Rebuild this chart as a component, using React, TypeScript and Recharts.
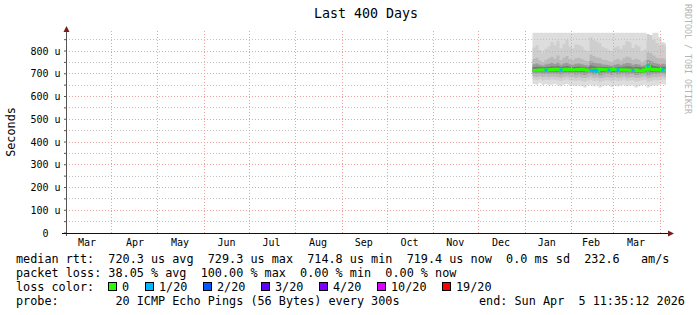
import React from "react";
import { ComposedChart, Area, Line, XAxis, YAxis, ReferenceLine } from "recharts";

const FONT = '"DejaVu Sans Mono", monospace';

// time axis: day 0 = start of the 400 day window
const firstDay = 311;
const stepDays = 2;
const monthNames = ["Mar", "Apr", "May", "Jun", "Jul", "Aug", "Sep", "Oct", "Nov", "Dec", "Jan", "Feb", "Mar"];
const monthLabelDays = [14, 46, 76, 107, 137, 168, 198.5, 229, 259.5, 290, 320.5, 350, 380];
const monthStartDays = [30.5, 61, 92, 122, 153, 184, 214, 245, 275, 306, 337, 365, 396];
const yTicks = [0, 50, 100, 150, 200, 250, 300, 350, 400, 450, 500, 550, 600, 650, 700, 750, 800, 850];
const yMajor = [100, 200, 300, 400, 500, 600, 700, 800];
const yMinor = [50, 150, 250, 350, 450, 550, 650, 750, 850];

// smoke bands (us), outermost first
const aHi = [
  880, 880, 880, 880, 880, 880, 880, 880, 880, 880, 880, 880, 880, 880, 880,
  880, 880, 880, 880, 880, 880, 880, 880, 880, 880, 880, 880, 880, 880, 880,
  880, 880, 880, 880, 880, 880, 880, 880, 850, 845, 880, 880, 860, 840, 835,
];
const aLo = [
  655, 652, 658, 650, 655, 648, 652, 655, 650, 645, 652, 655, 648, 650, 645,
  650, 645, 640, 648, 652, 645, 650, 640, 645, 650, 648, 642, 650, 645, 648,
  652, 645, 648, 650, 640, 645, 650, 652, 640, 645, 650, 648, 652, 655, 650,
];
const bHi = [
  815, 825, 805, 795, 810, 820, 840, 825, 845, 812, 830, 848, 820, 812, 830,
  826, 820, 806, 800, 860, 848, 842, 835, 818, 812, 805, 800, 815, 822, 810,
  826, 844, 838, 813, 828, 820, 800, 808, 875, 870, 850, 835, 826, 830, 820,
];
const bLo = [
  675, 672, 676, 670, 674, 671, 675, 673, 670, 668, 672, 675, 670, 672, 668,
  672, 668, 665, 670, 674, 668, 670, 664, 668, 672, 670, 666, 672, 668, 670,
  674, 668, 670, 672, 665, 668, 672, 674, 664, 668, 672, 670, 674, 676, 672,
];
const cHi = [
  765, 770, 758, 752, 762, 768, 775, 766, 780, 760, 770, 778, 765, 760, 768,
  770, 765, 758, 755, 785, 778, 772, 770, 762, 760, 756, 752, 760, 766, 758,
  768, 776, 772, 760, 766, 762, 752, 758, 795, 790, 780, 770, 766, 768, 762,
];
const cLo = [
  688, 686, 689, 685, 688, 685, 688, 687, 685, 683, 686, 688, 685, 686, 683,
  686, 683, 681, 685, 688, 683, 685, 680, 683, 686, 685, 682, 686, 683, 685,
  688, 683, 685, 686, 681, 683, 686, 688, 680, 683, 686, 685, 688, 689, 686,
];
const dHi = [
  742, 745, 740, 736, 741, 744, 748, 743, 750, 740, 745, 749, 742, 740, 744,
  745, 742, 738, 736, 755, 750, 746, 745, 741, 740, 737, 735, 740, 743, 739,
  744, 748, 746, 740, 743, 741, 735, 739, 760, 756, 750, 745, 743, 744, 741,
];
const dLo = [
  701, 700, 702, 699, 701, 699, 701, 700, 699, 697, 700, 701, 699, 700, 697,
  700, 697, 695, 699, 701, 697, 699, 694, 697, 700, 699, 696, 700, 697, 699,
  701, 697, 699, 700, 695, 697, 700, 701, 694, 697, 700, 699, 701, 702, 700,
];
const eHi = [
  730, 731, 730, 729, 730, 731, 733, 732, 734, 730, 732, 734, 731, 730, 731,
  732, 731, 729, 728, 736, 733, 731, 731, 730, 730, 729, 728, 730, 731, 729,
  731, 733, 732, 729, 731, 730, 727, 730, 742, 738, 734, 732, 731, 731, 730,
];
const eLo = [
  710, 709, 710, 709, 709, 709, 710, 710, 709, 708, 709, 710, 709, 709, 708,
  709, 708, 707, 708, 709, 707, 706, 706, 708, 709, 708, 707, 709, 708, 708,
  709, 708, 708, 707, 706, 705, 705, 709, 712, 709, 709, 709, 710, 710, 709,
];
const median = [
  716, 716, 717, 718, 715, 718, 719, 720, 720, 717, 719, 720, 719, 718, 718,
  719, 720, 718, 716, 714, 718, 712, 720, 718, 719, 716, 719, 720, 718, 717,
  718, 717, 716, 714, 717, 713, 712, 718, 733, 720, 719, 718, 719, 717, 716,
];
// lost pings out of 20
const loss = [
  0, 0, 0, 0, 1, 0, 0, 0, 0, 1, 0, 0, 0, 0, 0,
  0, 0, 0, 0, 1, 0, 1, 0, 0, 0, 1, 0, 0, 1, 0,
  0, 0, 0, 1, 0, 0, 0, 0, 1, 0, 0, 0, 0, 1, 0,
];

const lossLevels = [0, 1, 2, 3, 4, 10, 19];
const lossLabels = ["0", "1/20", "2/20", "3/20", "4/20", "10/20", "19/20"];
const lossColors = ["#26ff00", "#00b8ff", "#0059ff", "#5e00ff", "#7e00ff", "#dd00ff", "#ff0000"];

const bands = [
  { key: "a", lo: aLo, hi: aHi, color: "#dddddd" },
  { key: "b", lo: bLo, hi: bHi, color: "#cecece" },
  { key: "c", lo: cLo, hi: cHi, color: "#bababa" },
  { key: "d", lo: dLo, hi: dHi, color: "#9a9a9a" },
  { key: "e", lo: eLo, hi: eHi, color: "#777777" },
];

function lossValue(j: number, lvl: number) {
  if (loss[j] === lvl) return median[j];
  if (j > 0 && loss[j - 1] === lvl) return median[j - 1];
  return null;
}

const rows: any[] = median.map((m, i) => {
  const r: any = { day: firstDay + i * stepDays, med: m };
  bands.forEach((b) => (r[b.key] = [b.lo[i], b.hi[i]]));
  lossLevels.slice(1).forEach((lvl) => (r["l" + lvl] = lossValue(i, lvl)));
  return r;
});
// close the last step at the end of the window
{
  const last = rows[rows.length - 1];
  const end: any = { ...last, day: 400 };
  lossLevels.slice(1).forEach((lvl) => (end["l" + lvl] = lossValue(median.length, lvl)));
  rows.push(end);
}

function YTick({ x, y, payload }: any) {
  const v = payload.value;
  if (v % 100 !== 0) return <g />;
  return (
    <text x={v === 0 ? x - 13.5 : x - 1.5} y={y} dy="0.35em" textAnchor="end" fontFamily={FONT} fontSize={10} fill="#000">
      {v === 0 ? "0" : `${v} u`}
    </text>
  );
}

function MonthTick({ x, y, payload }: any) {
  const idx = monthLabelDays.indexOf(payload.value);
  return (
    <text x={x} y={y + 9} dy="0.35em" textAnchor="middle" fontFamily={FONT} fontSize={10} fill="#000">
      {monthNames[idx]}
    </text>
  );
}

const legendText: React.CSSProperties = {
  position: "absolute",
  left: 16,
  fontFamily: FONT,
  fontSize: 11.8,
  lineHeight: "14px",
  whiteSpace: "pre",
  color: "#000",
};

const gridProps = { strokeDasharray: "1 2", shapeRendering: "crispEdges" } as any;

export default function App() {
  let bx = 108;
  const boxes = lossLabels.map((lab, i) => {
    const el = (
      <React.Fragment key={lab}>
        <div style={{ position: "absolute", left: bx, top: 282, width: 7, height: 7, border: "1px solid #000", background: lossColors[i] }} />
        <div style={{ ...legendText, left: bx + 14, top: 280 }}>{lab}</div>
      </React.Fragment>
    );
    bx += 14.5 + lab.length * 7 + 15.5;
    return el;
  });

  return (
    <div style={{ position: "relative", width: 697, height: 315, background: "#fff", overflow: "hidden" }}>
      <style>{"body{margin:0}"}</style>
      <div style={{ position: "absolute", left: 266, width: 200, top: 6, textAlign: "center", fontFamily: FONT, fontSize: 13.3, lineHeight: "16px" }}>
        Last 400 Days
      </div>
      <div
        style={{
          position: "absolute",
          left: -29,
          top: 125,
          width: 80,
          height: 14,
          textAlign: "center",
          fontFamily: FONT,
          fontSize: 11.8,
          lineHeight: "14px",
          transform: "rotate(-90deg)",
        }}
      >
        Seconds
      </div>
      <div style={{ position: "absolute", left: 683, top: 4, writingMode: "vertical-rl", fontFamily: FONT, fontSize: 8.3, color: "#b4b4b4", lineHeight: "10px" }}>
        RRDTOOL / TOBI OETIKER
      </div>

      <ComposedChart width={697} height={315} data={rows} margin={{ top: 31, right: 31, bottom: 58, left: 0 }}>
        <XAxis
          dataKey="day"
          type="number"
          domain={[0, 400]}
          ticks={monthLabelDays}
          interval={0}
          axisLine={false}
          tickLine={false}
          tickSize={0}
          tickMargin={0}
          height={24}
          tick={<MonthTick />}
        />
        <YAxis
          type="number"
          domain={[0, 888]}
          allowDataOverflow
          ticks={yTicks}
          interval={0}
          width={66}
          axisLine={false}
          tickLine={{ stroke: "#555" }}
          tickSize={2}
          tickMargin={2}
          tick={<YTick />}
        />
        {bands.map((b) => (
          <Area
            key={b.key}
            dataKey={b.key}
            type="stepAfter"
            fill={b.color}
            fillOpacity={1}
            stroke="none"
            isAnimationActive={false}
            dot={false}
            activeDot={false}
          />
        ))}
        {yMinor.map((v) => (
          <ReferenceLine key={"n" + v} y={v} stroke="#c2c2c2" {...gridProps} />
        ))}
        {yMajor.map((v) => (
          <ReferenceLine key={"m" + v} y={v} stroke="#eea0a0" {...gridProps} />
        ))}
        {monthStartDays.map((d) => (
          <ReferenceLine key={"x" + d} x={d} stroke="#eea0a0" {...gridProps} />
        ))}
        <Line dataKey="med" type="stepAfter" stroke={lossColors[0]} strokeWidth={3} dot={false} activeDot={false} isAnimationActive={false} />
        {lossLevels.slice(1).map((lvl, i) => (
          <Line
            key={lvl}
            dataKey={"l" + lvl}
            type="stepAfter"
            stroke={lossColors[i + 1]}
            strokeWidth={3}
            dot={false}
            activeDot={false}
            connectNulls={false}
            isAnimationActive={false}
          />
        ))}
      </ComposedChart>

      <svg width={697} height={315} style={{ position: "absolute", left: 0, top: 0, pointerEvents: "none" }}>
        <line x1={66.5} y1={236} x2={66.5} y2={31} stroke="#555" />
        <line x1={62} y1={233.5} x2={668} y2={233.5} stroke="#111" />
        <polygon points="63.5,32 69.5,32 66.5,26" fill="#7a1c1c" />
        <polygon points="668,230.5 668,236.5 674,233.5" fill="#7a1c1c" />
      </svg>

      <div style={{ ...legendText, top: 252 }}>
        {"median rtt:  720.3 us avg  729.3 us max  714.8 us min  719.4 us now  0.0 ms sd  232.6   am/s"}
      </div>
      <div style={{ ...legendText, top: 266 }}>{"packet loss: 38.05 % avg  100.00 % max  0.00 % min  0.00 % now"}</div>
      <div style={{ ...legendText, top: 280 }}>{"loss color:"}</div>
      {boxes}
      <div style={{ ...legendText, top: 294 }}>{"probe:        20 ICMP Echo Pings (56 Bytes) every 300s"}</div>
      <div style={{ ...legendText, left: 479, top: 294 }}>{"end: Sun Apr  5 11:35:12 2026"}</div>
    </div>
  );
}
